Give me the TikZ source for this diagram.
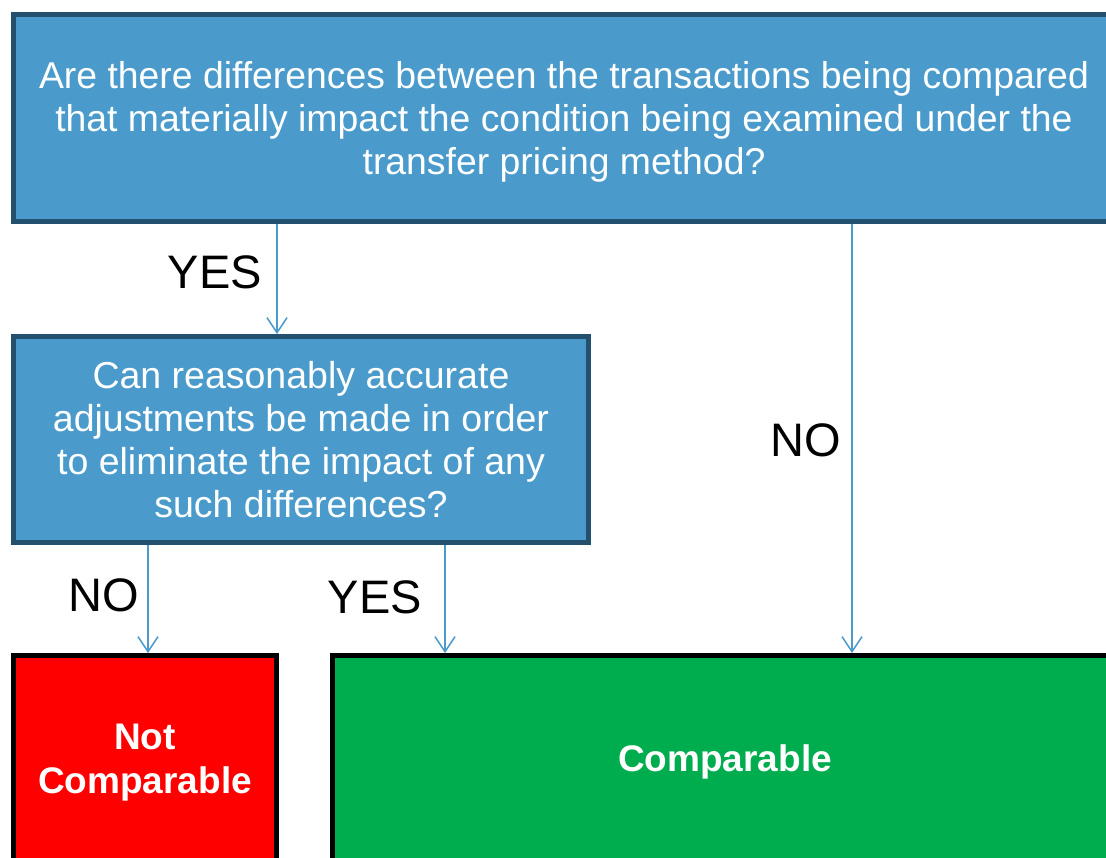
\documentclass[tikz,border=0pt]{standalone}
\usepackage{fontspec}
\setmainfont{Liberation Sans}
\usetikzlibrary{arrows.meta}
\definecolor{boxblue}{HTML}{4A9BCB}
\definecolor{edgeblue}{HTML}{24506F}
\definecolor{arrblue}{HTML}{4A9BCB}
\definecolor{nored}{HTML}{FF0000}
\definecolor{yesgreen}{HTML}{00AD4E}
\tikzset{
  qbox/.style={draw=edgeblue, line width=5pt, fill=boxblue, text=white, align=center, inner sep=0pt, font=\fontsize{37.5}{43}\selectfont},
  outbox/.style={draw=black, line width=5pt, text=white, align=center, inner sep=0pt, font=\bfseries\fontsize{37}{44}\selectfont},
  arr/.style={draw=arrblue, line width=1.5pt, -{Straight Barb[length=15pt,width=20pt,line width=1.5pt]}},
  lbl/.style={text=black, inner sep=0pt, font=\fontsize{47}{52}\selectfont}
}
\begin{document}
\begin{tikzpicture}[x=1pt,y=-1pt]
\clip (0,0) rectangle (1106,857);
\useasboundingbox (0,0) rectangle (1106,857);
\fill[white] (0,0) rectangle (1106,857);
\node[qbox, minimum width=1106.5pt, minimum height=207pt] (top) at (566.75,118) {};
\node[text=white, align=center, inner sep=0pt, font=\fontsize{37.35}{43}\selectfont] (toptext) at (564,122)
  {Are there differences between the transactions being compared\\that materially impact the condition being examined under the\\transfer pricing method?};
\node[qbox, minimum width=575pt, minimum height=206pt] (mid) at (301,439.5)
  {Can reasonably accurate\\adjustments be made in order\\to eliminate the impact of any\\such differences?};
\node[outbox, fill=nored, minimum width=263pt, minimum height=211pt] (notc) at (145,761) {};
\node[text=white, align=center, inner sep=0pt, font=\bfseries\fontsize{37}{44}\selectfont] (notctext) at (145,763)
  {Not\\Comparable};
\node[outbox, fill=yesgreen, minimum width=787.5pt, minimum height=211pt] (comp) at (726,761) {};
\node[text=white, inner sep=0pt, font=\bfseries\fontsize{37}{44}\selectfont] (comptext) at (725,762) {Comparable};
\coordinate (xa) at (277,0);
\coordinate (xb) at (852,0);
\coordinate (xc) at (148,0);
\coordinate (xd) at (445,0);
\draw[arr] (top.south -| xa) -- (mid.north -| xa);
\draw[arr] (top.south -| xb) -- (comp.north -| xb);
\draw[arr] (mid.south -| xc) -- (notc.north -| xc);
\draw[arr] (mid.south -| xd) -- (comp.north -| xd);
\node[lbl] (l1) at (215,272) {YES};
\node[lbl] (l2) at (806,440) {NO};
\node[lbl] (l3) at (104,595) {NO};
\node[lbl] (l4) at (375,597) {YES};
\end{tikzpicture}
\end{document}
